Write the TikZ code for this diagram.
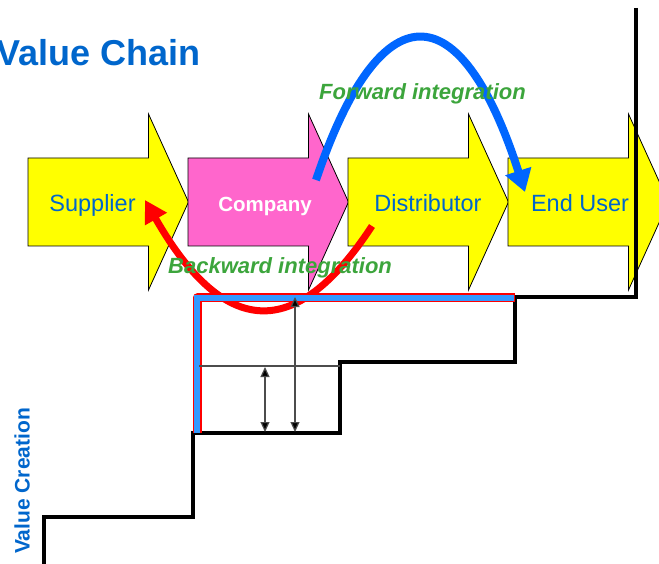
\documentclass[tikz,border=0pt]{standalone}
\usepackage{fontspec}
\setmainfont{Liberation Sans}
\usetikzlibrary{arrows.meta}
\definecolor{titleblue}{RGB}{0,102,204}
\definecolor{arcblue}{RGB}{0,102,255}
\definecolor{bandblue}{RGB}{51,153,255}
\definecolor{chainyellow}{RGB}{255,255,0}
\definecolor{chainpink}{RGB}{255,102,204}
\definecolor{intgreen}{RGB}{60,165,60}
\begin{document}
\begin{tikzpicture}[x=1pt,y=-1pt,
  chainarrow/.style={draw=black, line width=0.8pt, line join=miter},
  chaintext/.style={anchor=base, inner sep=0pt, text=titleblue, font=\fontsize{23.5}{28}\selectfont},
  intlabel/.style={anchor=base west, inner sep=0pt, text=intgreen, font=\fontsize{22}{26}\selectfont\bfseries\itshape},
  stairline/.style={draw=black, line width=4pt, line join=miter},
  measure/.style={draw=black!70, line width=1.2pt},
  measurearrow/.style={measure, {Triangle[length=10pt,width=9pt,fill=black]}-{Triangle[length=10pt,width=9pt,fill=black]}}]
\useasboundingbox (0,0) rectangle (659,564);
\clip (0,0) rectangle (659,564);
% chain arrows
\foreach \x/\c in {28/chainyellow,188/chainpink,348/chainyellow,508/chainyellow}
  \filldraw[chainarrow, fill=\c] (\x,158) -- ++(120.5,0) -- ++(0,-44) -- ++(40,88) -- ++(-40,88) -- ++(0,-44) -- ++(-120.5,0) -- cycle;
\node[chaintext] (supplier) at (92.5,212) {Supplier};
\node[chaintext, text=white, font=\fontsize{20.5}{24}\selectfont\bfseries] (company) at (265,212) {Company};
\node[chaintext] (distributor) at (428,212) {Distributor};
\node[chaintext] (enduser) at (580,212) {End User};
% integration arcs
\coordinate (fwdS) at (316,180);
\coordinate (fwdE) at (525,192);
\coordinate (bwdS) at (372,226);
\coordinate (bwdE) at (145,200);
\draw[arcblue, line width=8pt, -{Triangle[length=22pt,width=26pt]}] (fwdS) .. controls (380,-10) and (460,-10) .. (fwdE);
\draw[red, line width=7pt, -{Triangle[length=22pt,width=24pt]}] (bwdS) .. controls (300,336) and (228,345) .. (bwdE);
\node[intlabel] (fwdlabel) at (319,100) {Forward integration};
\node[intlabel] (bwdlabel) at (168,273) {Backward integration};
% staircase
\draw[stairline] (636,8) -- (636,297) -- (515,297) -- (515,362) -- (340,362) -- (340,433) -- (193,433) -- (193,517) -- (44,517) -- (44,570);
\draw[red, line width=9pt, line join=round] (197,433) -- (197,298) -- (514.5,298);
\draw[bandblue, line width=6.6pt] (197,433) -- (197,298) -- (514,298);
% measurements
\coordinate (midL) at (199,366);
\coordinate (midR) at (340,366);
\draw[measure] (midL) -- (midR);
\coordinate (m1top) at (265,367);
\coordinate (m1bot) at (265,432);
\coordinate (m2top) at (295,297);
\coordinate (m2bot) at (295,432);
\draw[measurearrow] (m1top) -- (m1bot);
\draw[measurearrow] (m2top) -- (m2bot);
% titles
\node[anchor=base east, inner sep=0pt, text=titleblue, font=\fontsize{36}{40}\selectfont\bfseries] (title) at (201,66) {Value Chain};
\node[rotate=90, inner sep=0pt, text=titleblue, font=\fontsize{21}{24}\selectfont\bfseries] (vc) at (22,481) {Value Creation};
\end{tikzpicture}
\end{document}
